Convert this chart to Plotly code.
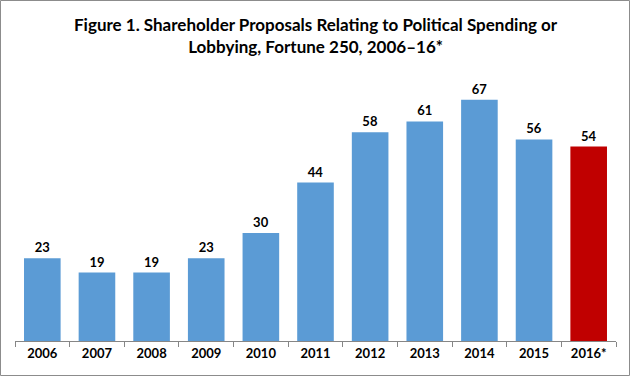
import plotly.graph_objects as go

years = ["2006", "2007", "2008", "2009", "2010", "2011", "2012", "2013", "2014", "2015", "2016*"]
proposals = [23, 19, 19, 23, 30, 44, 58, 61, 67, 56, 54]
bar_colors = ["#5B9BD5"] * 10 + ["#C00000"]
title_text = "Figure 1. Shareholder Proposals Relating to Political Spending or<br>Lobbying, Fortune 250, 2006–16*"

W, H = 630, 376
ml, mr, mt, mb = 15, 14, 53, 35
pw, ph = W - ml - mr, H - mt - mb
FONT = "Lato, Carlito, sans-serif"

fig = go.Figure(go.Bar(
    x=years, y=proposals, marker=dict(color=bar_colors, line=dict(width=0)),
    text=[str(v) for v in proposals], textposition="outside",
    textfont=dict(family=FONT, size=13, color="#000000", weight="bold"),
    cliponaxis=False, width=0.67, hoverinfo="skip",
))

fig.update_layout(
    width=W, height=H,
    margin=dict(l=ml, r=mr, t=mt, b=mb, autoexpand=False),
    paper_bgcolor="white", plot_bgcolor="white",
    showlegend=False,
    bargap=0.33,
    font=dict(family=FONT),
)
fig.add_annotation(
    text="<b>" + title_text + "</b>", xref="paper", yref="paper",
    x=0.5, xanchor="center", y=1 + (mt - 12) / ph, yanchor="top",
    showarrow=False, align="center",
    font=dict(family=FONT, size=17, color="#000000"),
)
fig.update_xaxes(
    type="category", showline=True, linecolor="#868686", linewidth=1,
    ticks="outside", tickson="boundaries", ticklen=5, tickcolor="#868686",
    tickfont=dict(family=FONT, size=13, color="#000000", weight="bold"),
    showgrid=False, automargin=False,
)
fig.update_yaxes(range=[0, 80], visible=False, showgrid=False)

fig.add_shape(type="rect", xref="paper", yref="paper",
              x0=-(ml - 0.5) / pw, x1=1 + (mr - 0.5) / pw,
              y0=-(mb - 0.5) / ph, y1=1 + (mt - 0.5) / ph,
              line=dict(color="#8C8C8C", width=1))

fig.write_html("out.html", config={"displayModeBar": False},
               post_script="document.body.style.margin='0';document.body.style.overflow='hidden';")
